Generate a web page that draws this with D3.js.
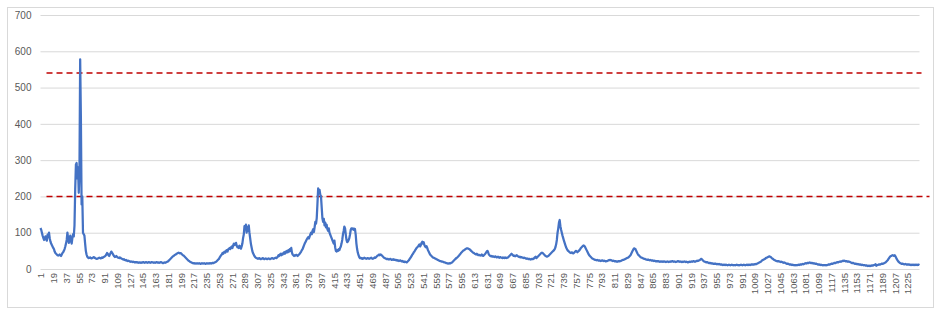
<!DOCTYPE html>
<html lang="en">
  <head>
    <meta charset="utf-8">
    <title>series</title>
    <style>
      body { margin: 0; background: #fff; }
      text { font-family: "Liberation Sans", Arial, sans-serif; }
    </style>
  </head>
  <body>

<script src="https://cdn.jsdelivr.net/npm/d3@7"></script>

<script>

// values, one per category (1..1242)
var values = [
  113,108,100,92,86,80,84,90,82,78,95,88,100,85,76,70,66,62,58,55,
  48,44,42,40,38,37,38,40,38,36,40,44,46,50,55,62,70,80,100,85,
  72,80,92,78,70,85,96,90,120,220,288,292,250,280,210,265,578,420,178,200,
  100,96,92,70,50,40,34,32,30,31,32,30,29,30,31,33,32,30,29,28,
  28,29,30,31,30,29,30,32,31,33,34,35,37,40,44,42,38,36,40,44,
  48,45,42,38,35,33,34,36,34,32,31,30,32,31,29,28,27,26,27,25,
  24,25,23,22,23,22,21,20,21,20,19,20,19,18,19,18,19,18,17,18,
  18,17,18,17,18,19,18,17,18,19,18,17,18,19,18,17,18,19,18,18,
  17,18,17,18,19,18,17,18,17,18,19,18,17,16,17,18,17,18,19,20,
  21,23,25,27,29,31,33,35,36,38,39,40,42,43,44,45,44,43,44,42,
  40,38,37,35,33,31,29,27,25,23,22,20,19,18,17,16,16,15,16,15,
  15,16,15,15,16,15,14,15,16,15,15,16,15,14,15,16,15,15,16,15,
  16,15,16,17,16,17,18,19,20,22,24,26,28,32,35,38,40,44,42,46,
  48,45,50,52,48,54,56,58,55,60,62,58,65,70,66,68,72,64,60,62,
  58,64,60,56,62,70,85,95,118,110,122,100,115,105,120,100,85,70,60,50,
  44,40,36,33,31,30,29,28,29,30,28,27,28,29,30,28,27,28,29,28,
  27,28,29,28,27,28,29,30,29,28,29,30,31,30,32,34,38,36,40,42,
  38,42,40,44,46,42,48,45,50,46,52,48,55,50,58,45,40,38,36,38,
  37,39,38,36,38,40,42,45,48,52,55,60,65,70,74,78,82,85,88,84,
  90,95,100,96,105,110,102,115,130,125,140,180,222,215,218,205,200,170,140,130,
  138,120,128,115,122,110,105,112,100,95,90,85,80,75,70,78,60,50,48,52,
  50,55,52,58,62,70,80,95,105,117,112,95,80,74,76,80,85,95,108,112,
  110,112,108,111,110,95,70,55,45,38,33,30,31,29,30,28,29,31,30,29,
  28,29,30,29,28,29,30,31,29,28,29,30,32,31,33,35,37,38,40,38,
  40,39,37,35,33,31,30,29,28,27,28,27,26,27,28,26,25,26,27,25,
  26,25,24,25,23,24,22,23,24,22,21,22,20,21,19,20,19,18,20,22,
  24,27,30,33,36,40,42,46,48,52,55,58,60,62,65,68,62,66,72,75,
  70,74,66,62,60,63,58,52,48,44,40,38,36,34,32,31,30,29,28,27,
  26,25,24,23,22,22,21,20,20,19,18,18,17,16,16,15,15,16,15,16,
  17,18,20,22,24,26,28,30,31,33,35,37,40,42,45,47,49,51,52,53,
  55,56,57,57,56,55,54,52,50,48,46,45,44,42,41,40,42,40,38,39,
  38,37,38,40,37,36,38,40,42,45,48,50,46,40,38,36,35,36,34,35,
  34,33,35,34,32,33,34,32,31,33,32,31,30,32,31,30,32,31,30,31,
  32,34,36,38,40,42,40,38,36,37,35,36,38,37,35,34,33,34,32,33,
  32,31,30,31,30,29,28,29,28,27,28,27,26,27,28,27,28,30,32,34,
  30,32,34,36,38,40,42,44,45,44,42,40,38,36,35,34,35,36,38,40,
  42,44,46,48,50,52,55,60,68,80,100,112,128,135,118,108,100,92,85,78,
  72,66,60,56,52,50,48,46,45,44,46,45,43,44,46,48,50,48,46,48,
  50,52,55,58,60,62,64,65,63,60,56,52,48,44,40,37,35,33,31,29,
  28,27,26,25,25,24,25,24,23,24,23,22,23,24,23,22,23,22,21,22,
  22,23,24,25,24,25,24,23,22,23,22,21,22,21,20,21,22,21,22,22,
  23,24,25,25,26,27,28,29,30,31,32,34,36,38,42,46,50,54,57,56,
  55,50,46,42,39,37,35,33,32,31,30,29,28,28,27,26,26,25,26,25,
  24,25,24,23,24,23,22,23,22,21,22,21,22,21,20,21,20,21,20,21,
  20,21,20,19,20,21,20,19,20,21,20,21,22,21,20,21,20,19,20,21,
  22,21,20,21,20,19,20,19,20,21,20,19,20,19,18,19,20,19,20,21,
  20,21,22,21,20,21,22,23,22,23,24,25,27,28,26,24,22,21,20,19,
  18,19,18,17,16,17,16,15,16,15,14,15,14,15,14,13,14,13,14,13,
  12,13,12,11,12,11,12,11,12,11,10,11,12,11,10,11,12,11,10,11,
  11,10,11,12,11,10,11,10,11,12,11,10,11,12,11,10,11,12,11,12,
  11,12,11,12,13,12,13,12,13,14,13,14,15,16,17,18,19,20,22,24,
  25,26,27,28,30,31,32,33,34,35,34,33,31,29,28,26,25,24,23,22,
  22,21,22,21,20,19,20,19,18,17,18,17,16,15,14,15,14,13,12,13,
  12,11,12,11,10,11,10,11,10,11,12,11,12,13,12,13,14,13,14,15,
  16,15,16,17,16,17,18,17,16,17,16,15,16,15,14,15,14,13,12,13,
  12,11,12,11,10,11,10,11,10,11,10,11,12,13,12,13,14,15,14,15,
  16,17,16,17,18,19,18,19,20,21,20,21,22,23,22,23,22,21,22,21,
  20,21,20,19,18,17,16,17,16,15,14,15,14,13,14,13,12,13,12,11,
  12,11,10,11,10,9,10,9,8,9,8,9,8,9,10,9,10,11,12,13,
  9,10,11,12,13,12,13,14,15,14,15,16,17,18,20,22,24,27,30,33,
  35,36,37,38,37,36,38,35,31,27,24,21,19,17,16,15,14,15,14,13,
  13,14,13,12,13,12,13,12,11,12,11,12,11,12,11,12,11,12,11,12,
  12,11
];

var categories = values.map(function(d, i) { return i + 1; });

// every 18th category is labelled
var xLabels = categories.filter(function(c) { return (c - 1) % 18 === 0; });
var yTicks = [0, 100, 200, 300, 400, 500, 600, 700];
var limits = [540, 200];

var svg = d3.select("body").append("svg")
    .attr("width", 939)
    .attr("height", 316);

// chart frame
svg.append("rect")
    .attr("x", 7.5).attr("y", 7.5)
    .attr("width", 926).attr("height", 300)
    .attr("fill", "#fff")
    .attr("stroke", "#d9d9d9");

var mLeft = 40.5, mRight = 919.5, mTop = 15, mBottom = 269;

var x = d3.scalePoint().domain(categories).range([mLeft, mRight]);
var y = d3.scaleLinear().domain([0, 700]).range([mBottom, mTop]);

// gridlines + y labels
var yAxis = svg.append("g")
    .attr("transform", "translate(" + mLeft + ",0)")
    .call(d3.axisLeft(y).tickValues(yTicks).tickSize(-(mRight - mLeft)).tickPadding(9));
yAxis.select(".domain").remove();
yAxis.selectAll("line").attr("stroke", "#d9d9d9");
yAxis.selectAll("text").attr("fill", "#595959").style("font-size", "10px");

// x labels
var xAxis = svg.append("g")
    .attr("transform", "translate(0," + mBottom + ")")
    .call(d3.axisBottom(x).tickValues(xLabels).tickSize(0));
xAxis.select(".domain").remove();
xAxis.selectAll("text")
    .attr("fill", "#595959")
    .style("font-size", "9.5px")
    .attr("text-anchor", "end")
    .attr("transform", "rotate(-90)")
    .attr("x", -4)
    .attr("y", 0)
    .attr("dy", "0.35em");

// limit lines
svg.selectAll(".limit")
    .data(limits)
  .enter().append("line")
    .attr("class", "limit")
    .attr("x1", mLeft + 6)
    .attr("x2", function(d, i) { return i === 0 ? mRight + 2 : mRight + 10; })
    .attr("y1", function(d) { return y(d); })
    .attr("y2", function(d) { return y(d); })
    .attr("stroke", "#c00000")
    .attr("stroke-width", 1.5)
    .attr("stroke-dasharray", "6,4");

// series
var line = d3.line()
    .x(function(d, i) { return x(categories[i]); })
    .y(function(d) { return y(d); });

svg.append("path")
    .datum(values)
    .attr("d", line)
    .attr("fill", "none")
    .attr("stroke", "#4472c4")
    .attr("stroke-width", 2.25)
    .attr("stroke-linejoin", "round");

</script>

  </body>
</html>
